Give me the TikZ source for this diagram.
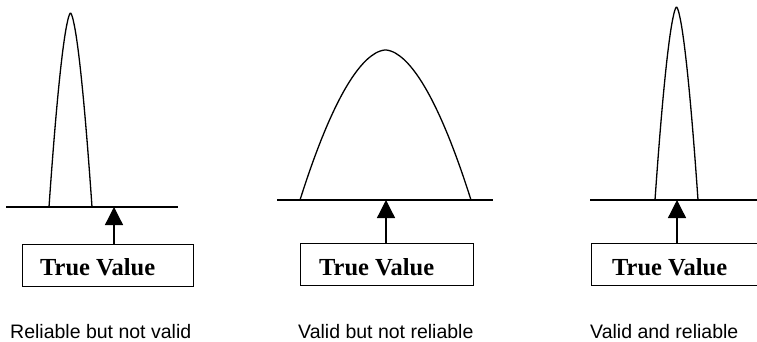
\documentclass[tikz,border=0pt]{standalone}
\usepackage{fontspec}
\setmainfont{Liberation Serif}
\newfontfamily\capfont{Liberation Sans}
\usetikzlibrary{arrows.meta}
\tikzset{
  ln/.style={line width=1.3pt, black},
  curve/.style={line width=1.3pt, black},
  tvbox/.style={draw, line width=1.3pt, rectangle, inner sep=0pt, minimum height=42pt, anchor=north west},
  tvtext/.style={anchor=base west, inner sep=0pt, font=\fontsize{24.5}{25}\selectfont\bfseries},
  caption/.style={anchor=base west, inner sep=0pt, text depth=0pt, font=\capfont\fontsize{19.5}{20}\selectfont},
  uparrow/.style={line width=1.3pt, -{Triangle[length=18pt,width=18pt]}}
}
\begin{document}
\begin{tikzpicture}[x=1pt,y=-1pt]
\clip (0,0) rectangle (757,341);
\fill[white] (0,0) rectangle (757,341);
% Panel 1
\coordinate (b1l) at (6,207);
\coordinate (b1r) at (178,207);
\draw[ln] (b1l) -- (b1r);
\draw[curve] plot[domain=-1:1, samples=80] ({70.5+21.5*\x}, {207-194*(1-abs(\x)^1.6)});
\node[tvbox, minimum width=171pt] (box1) at (22,244) {};
\node[tvtext] (t1) at (40,275) {True Value};
\coordinate (tip1) at (114,207);
\draw[uparrow] (box1.north west -| tip1) -- (tip1);
\node[caption] (c1) at (10,338) {Reliable but not valid};
% Panel 2
\coordinate (b2l) at (277,200);
\coordinate (b2r) at (493,200);
\draw[ln] (b2l) -- (b2r);
\draw[curve] plot[domain=-1:1, samples=80] ({385.5+85.5*\x}, {200-150*(1-abs(\x)^1.8)});
\node[tvbox, minimum width=173pt] (box2) at (300,243) {};
\node[tvtext] (t2) at (319,275) {True Value};
\coordinate (tip2) at (386,200);
\draw[uparrow] (box2.north west -| tip2) -- (tip2);
\node[caption] (c2) at (298,338) {Valid but not reliable};
% Panel 3
\coordinate (b3l) at (590,200);
\coordinate (b3r) at (760,200);
\draw[ln] (b3l) -- (b3r);
\draw[curve] plot[domain=-1:1, samples=80] ({676.5+21.5*\x}, {200-193*(1-abs(\x)^1.6)});
\node[tvbox, minimum width=180pt] (box3) at (591,243) {};
\node[tvtext] (t3) at (612,275) {True Value};
\coordinate (tip3) at (677,200);
\draw[uparrow] (box3.north west -| tip3) -- (tip3);
\node[caption] (c3) at (590,338) {Valid and reliable};
\end{tikzpicture}
\end{document}
